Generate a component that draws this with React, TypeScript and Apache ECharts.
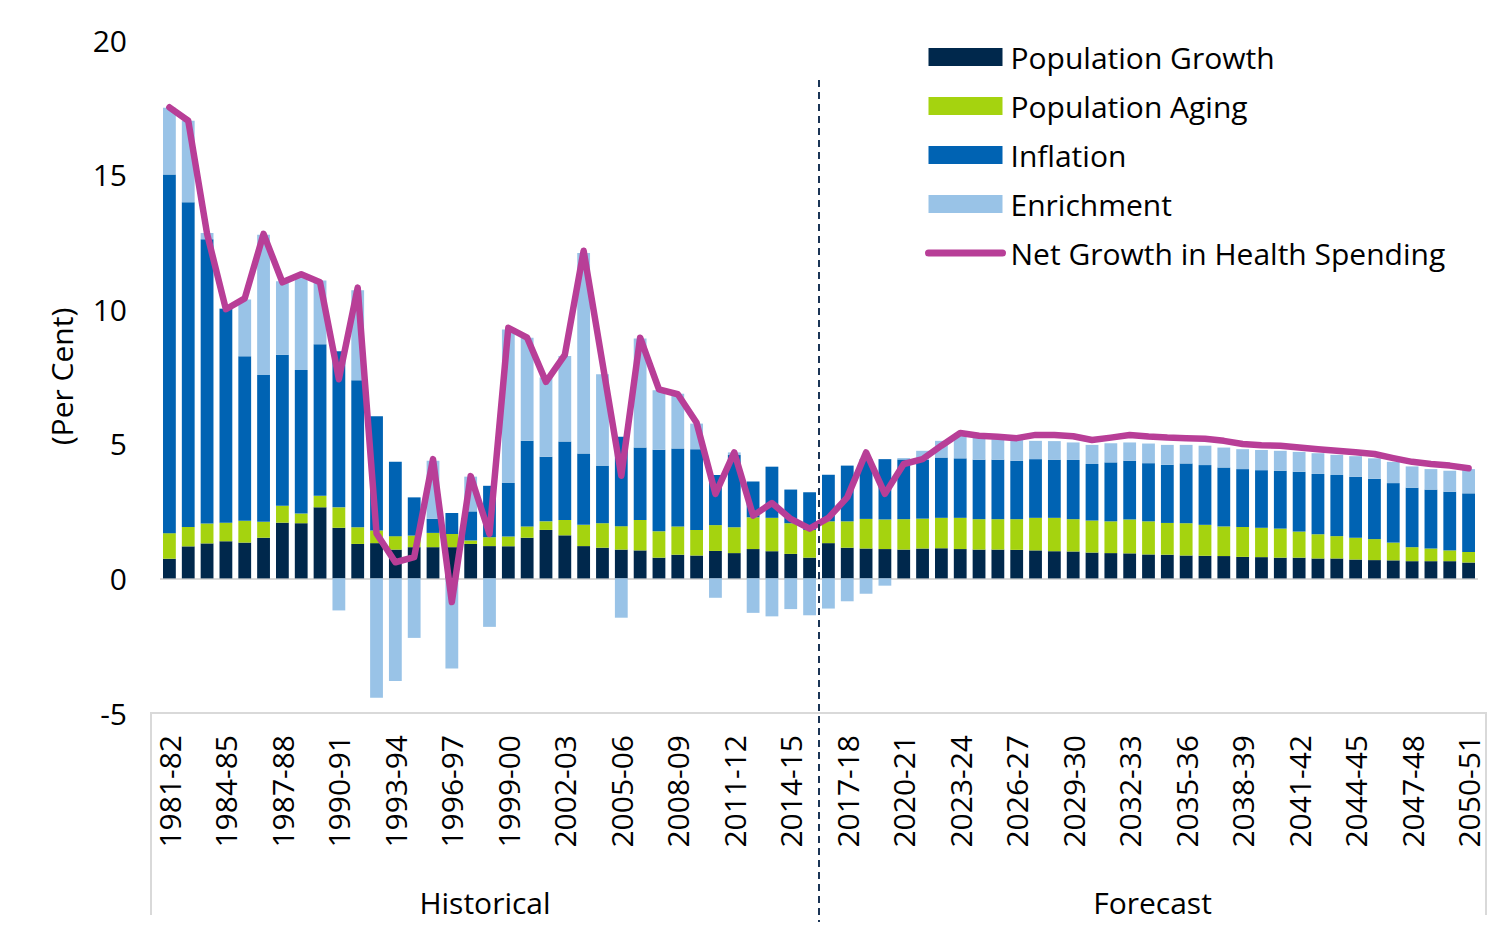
import React, { useEffect, useRef } from "react";
import * as echarts from "echarts";

const categories = [
  "1981-82", "1982-83", "1983-84", "1984-85", "1985-86", "1986-87", "1987-88", "1988-89", "1989-90", "1990-91",
  "1991-92", "1992-93", "1993-94", "1994-95", "1995-96", "1996-97", "1997-98", "1998-99", "1999-00", "2000-01",
  "2001-02", "2002-03", "2003-04", "2004-05", "2005-06", "2006-07", "2007-08", "2008-09", "2009-10", "2010-11",
  "2011-12", "2012-13", "2013-14", "2014-15", "2015-16", "2016-17", "2017-18", "2018-19", "2019-20", "2020-21",
  "2021-22", "2022-23", "2023-24", "2024-25", "2025-26", "2026-27", "2027-28", "2028-29", "2029-30", "2030-31",
  "2031-32", "2032-33", "2033-34", "2034-35", "2035-36", "2036-37", "2037-38", "2038-39", "2039-40", "2040-41",
  "2041-42", "2042-43", "2043-44", "2044-45", "2045-46", "2046-47", "2047-48", "2048-49", "2049-50", "2050-51",
];

const populationGrowth = [
  0.73, 1.19, 1.30, 1.38, 1.33, 1.51, 2.07, 2.05, 2.64, 1.88,
  1.28, 1.31, 1.07, 1.16, 1.16, 1.16, 1.28, 1.20, 1.19, 1.51,
  1.80, 1.60, 1.20, 1.14, 1.07, 1.04, 0.77, 0.88, 0.85, 1.02,
  0.94, 1.09, 1.01, 0.91, 0.77, 1.31, 1.14, 1.11, 1.09, 1.07,
  1.11, 1.12, 1.09, 1.07, 1.07, 1.06, 1.04, 1.01, 1.00, 0.96,
  0.94, 0.93, 0.89, 0.88, 0.85, 0.84, 0.83, 0.80, 0.79, 0.77,
  0.77, 0.74, 0.74, 0.70, 0.68, 0.67, 0.64, 0.64, 0.64, 0.59,
];

const populationAging = [
  0.95, 0.72, 0.74, 0.69, 0.81, 0.59, 0.63, 0.36, 0.43, 0.76,
  0.62, 0.47, 0.50, 0.43, 0.53, 0.49, 0.13, 0.33, 0.37, 0.42,
  0.32, 0.57, 0.79, 0.91, 0.87, 1.13, 0.98, 1.05, 0.95, 0.96,
  0.96, 1.18, 1.24, 1.14, 1.03, 0.81, 0.98, 1.10, 1.10, 1.13,
  1.11, 1.13, 1.16, 1.13, 1.13, 1.14, 1.21, 1.24, 1.20, 1.19,
  1.18, 1.26, 1.23, 1.18, 1.20, 1.15, 1.10, 1.11, 1.09, 1.08,
  0.97, 0.90, 0.83, 0.81, 0.78, 0.66, 0.52, 0.47, 0.40, 0.39,
];

const inflation = [
  13.32, 12.06, 10.56, 7.95, 6.11, 5.46, 5.61, 5.33, 5.63, 5.80,
  5.46, 4.24, 2.76, 1.42, 0.52, 0.78, 1.08, 1.91, 1.98, 3.18,
  2.40, 2.92, 2.65, 2.14, 3.32, 2.69, 3.03, 2.90, 3.00, 1.86,
  2.68, 1.33, 1.90, 1.25, 1.40, 1.73, 2.07, 2.22, 2.24, 2.22,
  2.18, 2.24, 2.21, 2.21, 2.21, 2.17, 2.18, 2.16, 2.20, 2.10,
  2.19, 2.18, 2.16, 2.16, 2.22, 2.22, 2.19, 2.15, 2.14, 2.15,
  2.22, 2.24, 2.27, 2.26, 2.24, 2.21, 2.21, 2.19, 2.18, 2.18,
];

const enrichment = [
  2.48, 3.03, 0.23, 0.02, 2.11, 5.21, 2.73, 3.48, 2.37, -1.19,
  3.34, -4.43, -3.81, -2.21, 2.16, -3.35, 1.29, -1.80, 5.71, 3.83,
  2.94, 3.17, 7.45, 3.39, -1.46, 4.05, 2.21, 2.03, 0.95, -0.72,
  0.10, -1.28, -1.41, -1.14, -1.37, -1.12, -0.85, -0.57, -0.27, 0.05,
  0.34, 0.62, 0.84, 0.82, 0.76, 0.77, 0.68, 0.69, 0.65, 0.71,
  0.71, 0.68, 0.73, 0.74, 0.69, 0.72, 0.74, 0.74, 0.75, 0.74,
  0.74, 0.77, 0.75, 0.77, 0.76, 0.79, 0.79, 0.76, 0.78, 0.90,
];

const netGrowth = [
  17.5, 17.0, 12.8, 10.0, 10.4, 12.8, 11.0, 11.3, 11.0, 7.4,
  10.8, 1.67, 0.6, 0.79, 4.43, -0.88, 3.8, 1.65, 9.31, 8.94,
  7.3, 8.3, 12.17, 8.0, 3.81, 8.94, 7.02, 6.84, 5.78, 3.14,
  4.68, 2.33, 2.8, 2.21, 1.85, 2.25, 3.01, 4.68, 3.14, 4.25,
  4.43, 4.93, 5.40, 5.30, 5.26, 5.21, 5.33, 5.33, 5.28, 5.14,
  5.23, 5.33, 5.27, 5.23, 5.21, 5.19, 5.11, 4.99, 4.95, 4.93,
  4.86, 4.80, 4.74, 4.69, 4.62, 4.47, 4.33, 4.25, 4.19, 4.09,
];

const yTicks = { min: -5, max: 20, interval: 5 };
const groupLabels = ["Historical", "Forecast"];
const firstForecastIndex = 35;

const FONT = "'Open Sans', 'Noto Sans', sans-serif";
const GRAY = "#d9d9d9";
const LINE_COLOR = "#b83e97";
const FS = 30;

export default function App() {
  const ref = useRef<HTMLDivElement>(null);

  useEffect(() => {
    if (!ref.current) return;
    const chart = echarts.init(ref.current, null, { renderer: "svg" });
    const barBase = {
      type: "bar",
      stack: "total",
      barCategoryGap: "32%",
    };
    chart.setOption({
      animation: false,
      textStyle: { fontFamily: FONT },
      grid: { left: 160, right: 22, top: 40, bottom: 224, containLabel: false },
      legend: {
        orient: "vertical",
        left: 920,
        top: 37,
        itemWidth: 74,
        itemHeight: 18,
        itemGap: 19,
        textStyle: { fontSize: FS, color: "#000", fontFamily: FONT, padding: [0, 0, 0, 3] },
        data: [
          { name: "Population Growth", icon: "rect" },
          { name: "Population Aging", icon: "rect" },
          { name: "Inflation", icon: "rect" },
          { name: "Enrichment", icon: "rect" },
          {
            name: "Net Growth in Health Spending",
            itemStyle: { opacity: 0 },
            lineStyle: { width: 7, color: LINE_COLOR, cap: "round" },
          },
        ],
      },
      xAxis: {
        type: "category",
        data: categories,
        axisLine: { show: false },
        axisTick: { show: false },
        axisLabel: {
          interval: 2,
          rotate: 90,
          fontSize: FS,
          color: "#000",
          margin: 22,
          fontFamily: FONT,
        },
      },
      yAxis: {
        type: "value",
        min: yTicks.min,
        max: yTicks.max,
        interval: yTicks.interval,
        name: "(Per Cent)",
        nameLocation: "middle",
        nameGap: 84,
        nameTextStyle: { fontSize: FS, color: "#000", fontFamily: FONT },
        axisLine: { show: false },
        axisTick: { show: false },
        splitLine: { show: false },
        axisLabel: { fontSize: FS, color: "#000", margin: 33, fontFamily: FONT },
      },
      series: [
        {
          ...barBase,
          name: "Population Growth",
          data: populationGrowth,
          itemStyle: { color: "#00284c" },
          markLine: {
            silent: true,
            symbol: "none",
            label: { show: false },
            lineStyle: { color: GRAY, width: 2, type: "solid" },
            data: [{ yAxis: 0 }],
            z: 1,
          },
        },
        { ...barBase, name: "Population Aging", data: populationAging, itemStyle: { color: "#a5d30f" } },
        { ...barBase, name: "Inflation", data: inflation, itemStyle: { color: "#0063b3" } },
        { ...barBase, name: "Enrichment", data: enrichment, itemStyle: { color: "#99c3e7" } },
        {
          type: "line",
          name: "Net Growth in Health Spending",
          data: netGrowth,
          symbol: "none",
          z: 10,
          itemStyle: { color: LINE_COLOR },
          lineStyle: { color: LINE_COLOR, width: 6.5, cap: "round", join: "round" },
        },
      ],
    });

    const xa = chart.convertToPixel({ xAxisIndex: 0 }, categories[firstForecastIndex - 1]) as number;
    const xb = chart.convertToPixel({ xAxisIndex: 0 }, categories[firstForecastIndex]) as number;
    const mid = (xa + xb) / 2;
    const yBottom = chart.convertToPixel({ yAxisIndex: 0 }, yTicks.min) as number;
    const leftX = 151;
    const rightX = 1486;
    const sepBottom = 915;

    chart.setOption({
      graphic: [
        {
          type: "line",
          shape: { x1: leftX - 1, y1: yBottom, x2: rightX + 1, y2: yBottom },
          style: { stroke: GRAY, lineWidth: 2 },
          silent: true,
        },
        {
          type: "line",
          shape: { x1: leftX, y1: yBottom, x2: leftX, y2: sepBottom },
          style: { stroke: GRAY, lineWidth: 2 },
          silent: true,
        },
        {
          type: "line",
          shape: { x1: rightX, y1: yBottom, x2: rightX, y2: sepBottom },
          style: { stroke: GRAY, lineWidth: 2 },
          silent: true,
        },
        {
          type: "line",
          shape: { x1: mid, y1: 80, x2: mid, y2: 922 },
          style: { stroke: "#1b3556", lineWidth: 2, lineDash: [7, 5] },
          silent: true,
          z: 20,
        },
        {
          type: "text",
          x: (leftX + mid) / 2,
          y: 902,
          style: {
            text: groupLabels[0],
            fontSize: FS,
            fontFamily: FONT,
            fill: "#000",
            align: "center",
            verticalAlign: "middle",
          },
        },
        {
          type: "text",
          x: (mid + rightX) / 2,
          y: 902,
          style: {
            text: groupLabels[1],
            fontSize: FS,
            fontFamily: FONT,
            fill: "#000",
            align: "center",
            verticalAlign: "middle",
          },
        },
      ],
    });

    return () => chart.dispose();
  }, []);

  return (
    <div
      ref={ref}
      style={{ position: "fixed", left: 0, top: 0, width: 1500, height: 937, background: "#fff" }}
    />
  );
}
